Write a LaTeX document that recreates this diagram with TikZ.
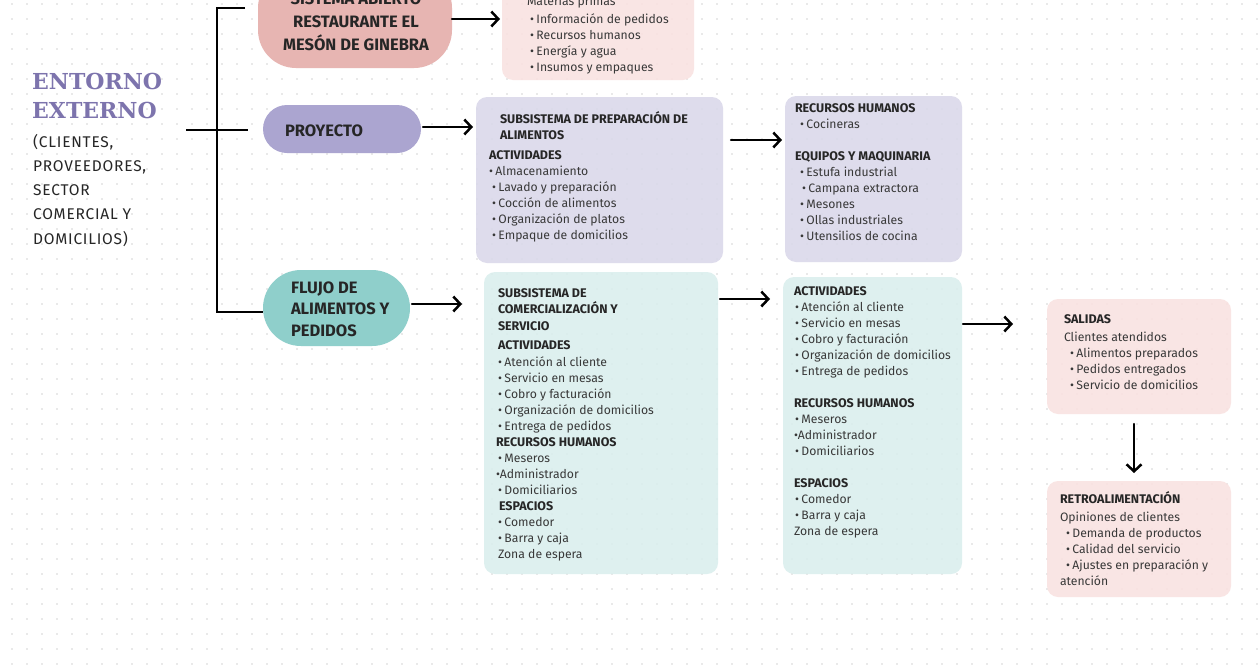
\documentclass[tikz,border=0pt]{standalone}
\usepackage{fontspec}
\setmainfont{Fira Sans}
\newfontfamily\titlefont{DejaVu Serif}
\newfontfamily\spacedfont[LetterSpace=5]{Fira Sans}
\usetikzlibrary{arrows.meta}
\definecolor{dotc}{HTML}{D4D4D4}
\definecolor{bodyc}{HTML}{383838}
\definecolor{headc}{HTML}{262626}
\definecolor{pillpink}{HTML}{E7B5B2}
\definecolor{pilllav}{HTML}{ABA5D0}
\definecolor{pillteal}{HTML}{8FCFCB}
\definecolor{panlav}{HTML}{DAD8EA}
\definecolor{panteal}{HTML}{DAEEED}
\definecolor{panpink}{HTML}{F9E2E1}
\definecolor{entc}{HTML}{7D74AD}
\newcommand\blk[1]{\begin{tabular}[t]{@{}l@{}}#1\end{tabular}}
\newcommand\blc[1]{\begin{tabular}[t]{@{}c@{}}#1\end{tabular}}
\newcommand\hd[1]{{\fontsize{12.5}{16}\selectfont\bfseries\color{headc}#1}}
\newcommand\bl{\textbullet\hspace{2.5pt}}
\tikzset{
  pill/.style={inner sep=0pt, outer sep=0pt},
  panel/.style={inner sep=0pt, outer sep=0pt, rounded corners=11pt, fill opacity=0.88},
  lines/.style={anchor=base west, inner sep=0pt, outer sep=0pt, font=\fontsize{12.2}{16}\selectfont, text=bodyc},
  pilltext/.style={inner sep=0pt, outer sep=0pt, font=\fontsize{16.5}{23}\selectfont\bfseries, text=headc},
  arr/.style={line width=2.5pt, line cap=round, -{Straight Barb[length=7pt,width=15pt,line width=2.5pt]}},
  brk/.style={line width=1.8pt}
}
\begin{document}
\begin{tikzpicture}[x=1pt,y=-1pt]
\useasboundingbox (0,0) rectangle (1260,664);
\clip (0,0) rectangle (1260,664);
\fill[white] (0,0) rectangle (1260,664);
% dotted background
\foreach \i in {0,...,83}{
  \foreach \j in {0,...,44}{
    \fill[dotc] (12+15*\i,4+15*\j) circle (0.9);
  }
}
% pills
\node[pill, fill=pillpink, rounded corners=38pt, minimum width=194pt, minimum height=98pt] (sis) at (355,19) {};
\node[pill, fill=pilllav, rounded corners=24pt, minimum width=158pt, minimum height=48pt] (proy) at (342,129) {};
\node[pill, fill=pillteal, rounded corners=38pt, minimum width=147pt, minimum height=76pt] (flujo) at (336.5,308) {};
% panels
\node[panel, fill=panpink, minimum width=192pt, minimum height=120pt] (ent) at (598,20) {};
\node[panel, fill=panlav, minimum width=247pt, minimum height=166pt] (prep) at (599.5,180) {};
\node[panel, fill=panlav, minimum width=177pt, minimum height=166pt] (rh) at (873.5,179) {};
\node[panel, fill=panteal, minimum width=234pt, minimum height=302pt] (com) at (601,423) {};
\node[panel, fill=panteal, minimum width=179pt, minimum height=297pt] (act) at (872.5,425.5) {};
\node[panel, fill=panpink, minimum width=184pt, minimum height=115pt] (sal) at (1139,356.5) {};
\node[panel, fill=panpink, minimum width=184pt, minimum height=116pt] (ret) at (1139,539) {};
% left texts
\node[anchor=base west, inner sep=0pt, font=\titlefont\fontsize{22}{29}\selectfont\bfseries, text=entc] (entorno) at (32,89) {\blk{ENTORNO\\EXTERNO}};
\node[anchor=base west, inner sep=0pt, font=\spacedfont\fontsize{15.5}{24.3}\selectfont, text=headc] (clientes) at (33,147) {\blk{(CLIENTES,\\PROVEEDORES,\\SECTOR\\COMERCIAL Y\\DOMICILIOS)}};
% bracket
\coordinate (bt) at (217,8);
\coordinate (btE) at (245,8);
\coordinate (bb) at (217,312);
\coordinate (bm1) at (186,130);
\coordinate (bm2) at (248,130);
\draw[brk] (btE) -- (bt) -- (bb) -- (flujo.west |- bb);
\draw[brk] (bm1) -- (bm2);
% pill texts
\node[pilltext, anchor=base] (sist) at (356,4) {\blc{SISTEMA ABIERTO\\RESTAURANTE EL\\MESÓN DE GINEBRA}};
\node[pilltext, anchor=base west] (proyt) at (285,136) {PROYECTO};
\node[pilltext, anchor=base west, font=\fontsize{16.5}{21.5}\selectfont\bfseries] (flujot) at (291,293) {\blk{FLUJO DE\\ALIMENTOS Y\\PEDIDOS}};
% panel texts
\node[lines] (entt) at (527,7) {\blk{\raisebox{2pt}{Materias primas}\\
\hspace*{3pt}\bl Información de pedidos\\
\hspace*{3pt}\bl Recursos humanos\\
\hspace*{3pt}\bl Energía y agua\\
\hspace*{3pt}\bl Insumos y empaques}};
\node[lines] (prept) at (489,123) {\blk{\hspace*{11pt}\hd{SUBSISTEMA DE PREPARACIÓN DE}\\
\hspace*{11pt}\hd{ALIMENTOS}\\[4pt]
\hd{ACTIVIDADES}\\
\bl Almacenamiento\\
\hspace*{3pt}\bl Lavado y preparación\\
\hspace*{3pt}\bl Cocción de alimentos\\
\hspace*{3pt}\bl Organización de platos\\
\hspace*{3pt}\bl Empaque de domicilios}};
\node[lines] (rht) at (795,112) {\blk{\hd{RECURSOS HUMANOS}\\
\hspace*{5pt}\bl Cocineras\\[16pt]
\hd{EQUIPOS Y MAQUINARIA}\\
\hspace*{5pt}\bl Estufa industrial\\
\hspace*{7pt}\bl Campana extractora\\
\hspace*{5pt}\bl Mesones\\
\hspace*{5pt}\bl Ollas industriales\\
\hspace*{5pt}\bl Utensilios de cocina}};
\node[lines] (comt) at (496,297) {\blk{\hspace*{2pt}\hd{SUBSISTEMA DE}\\
\hspace*{2pt}\hd{COMERCIALIZACIÓN Y}\\[1pt]
\hspace*{2pt}\hd{SERVICIO}\\[3pt]
\hspace*{2pt}\hd{ACTIVIDADES}\\[1pt]
\hspace*{2pt}\bl Atención al cliente\\
\hspace*{2pt}\bl Servicio en mesas\\
\hspace*{2pt}\bl Cobro y facturación\\
\hspace*{2pt}\bl Organización de domicilios\\
\hspace*{2pt}\bl Entrega de pedidos\\
\hd{RECURSOS HUMANOS}\\
\hspace*{2pt}\bl Meseros\\
\textbullet Administrador\\
\hspace*{2pt}\bl Domiciliarios\\
\hspace*{3pt}\hd{ESPACIOS}\\
\hspace*{2pt}\bl Comedor\\
\hspace*{2pt}\bl Barra y caja\\
\hspace*{2pt}Zona de espera}};
\node[lines] (actt) at (794,295) {\blk{\hd{ACTIVIDADES}\\
\hspace*{1pt}\bl Atención al cliente\\
\hspace*{1pt}\bl Servicio en mesas\\
\hspace*{1pt}\bl Cobro y facturación\\
\hspace*{1pt}\bl Organización de domicilios\\
\hspace*{1pt}\bl Entrega de pedidos\\[16pt]
\hd{RECURSOS HUMANOS}\\
\hspace*{1pt}\bl Meseros\\
\textbullet Administrador\\
\hspace*{1pt}\bl Domiciliarios\\[16pt]
\hd{ESPACIOS}\\
\hspace*{1pt}\bl Comedor\\
\hspace*{1pt}\bl Barra y caja\\
Zona de espera}};
\node[lines] (salt) at (1064,323) {\blk{\hd{SALIDAS}\\[2pt]
Clientes atendidos\\
\hspace*{6pt}\bl Alimentos preparados\\
\hspace*{6pt}\bl Pedidos entregados\\
\hspace*{6pt}\bl Servicio de domicilios}};
\node[lines] (rett) at (1060,503) {\blk{\hd{RETROALIMENTACIÓN}\\[2pt]
Opiniones de clientes\\
\hspace*{6pt}\bl Demanda de productos\\
\hspace*{6pt}\bl Calidad del servicio\\
\hspace*{6pt}\bl Ajustes en preparación y\\
atención}};
% arrows
\draw[arr, shorten >=2pt] (sis.east) -- (sis.east -| ent.west);
\draw[arr, shorten <=2pt, shorten >=3pt] ([yshift=2pt]proy.east) -- ([yshift=2pt]proy.east -| prep.west);
\draw[arr, shorten <=8pt, shorten >=3pt] ([yshift=40pt]prep.east) -- ([yshift=40pt]prep.east -| rh.west);
\draw[arr, shorten <=2pt, shorten >=22pt] ([yshift=4pt]flujo.east) -- ([yshift=4pt]flujo.east -| com.west);
\draw[arr, shorten <=2pt, shorten >=13pt] ([yshift=124pt]com.east) -- ([yshift=124pt]com.east -| act.west);
\draw[arr, shorten <=1pt, shorten >=34pt] ([yshift=101.5pt]act.east) -- ([yshift=101.5pt]act.east -| sal.west);
\draw[arr, shorten <=10pt, shorten >=8pt] ([xshift=-5pt]sal.south) -- ([xshift=-5pt]ret.north);
\end{tikzpicture}
\end{document}
